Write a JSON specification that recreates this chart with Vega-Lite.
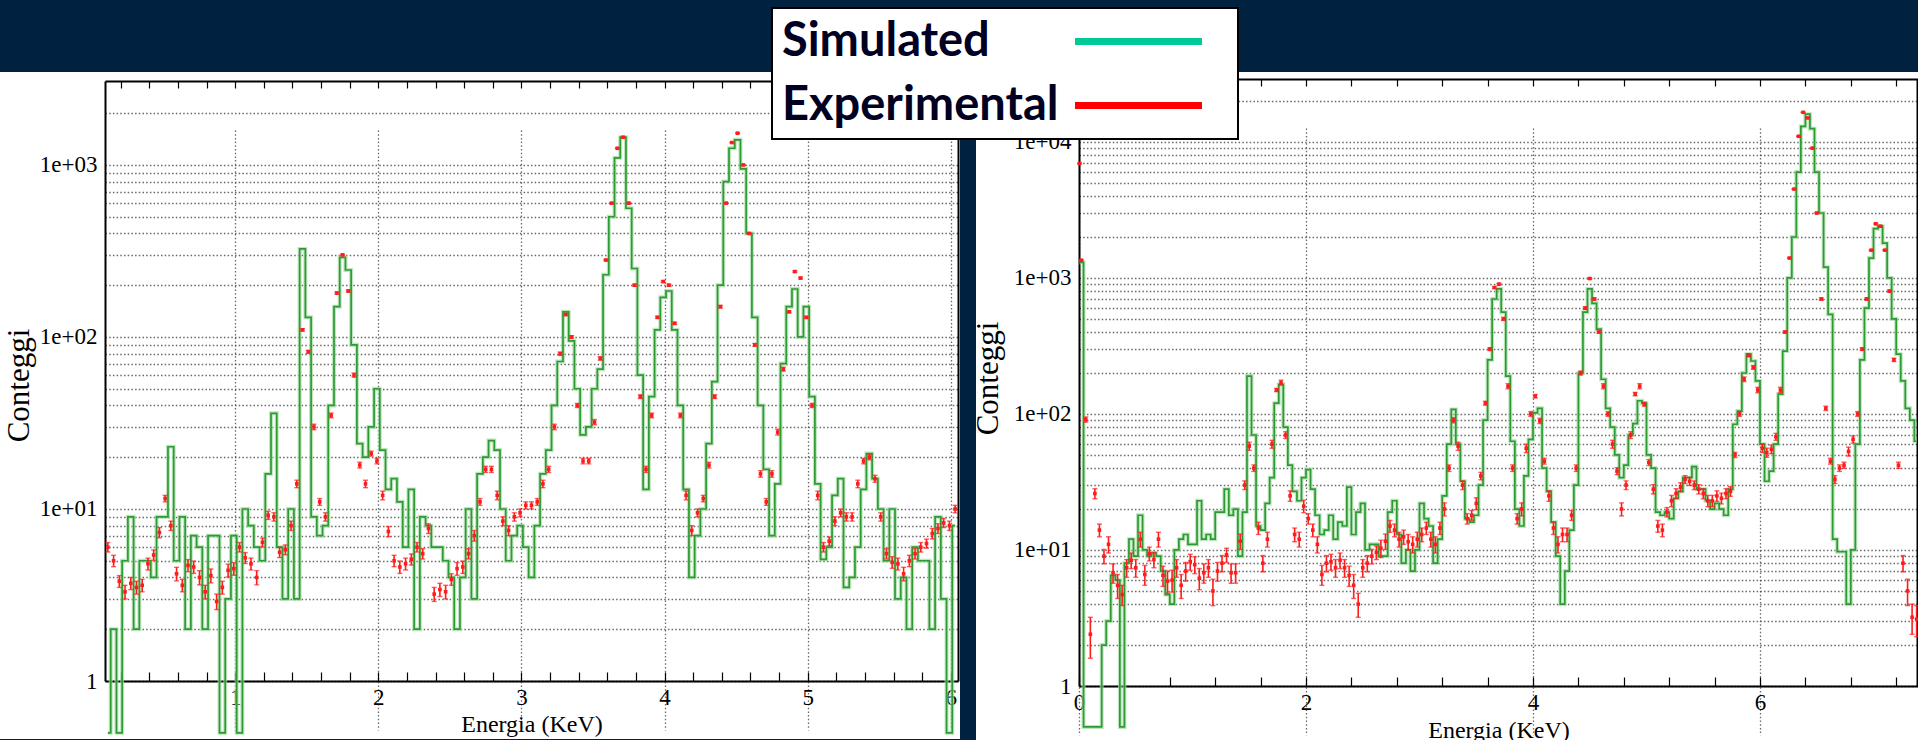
{
  "$schema": "https://vega.github.io/schema/vega-lite/v6.json",
  "background": "#00213f",
  "padding": {"left": 0, "top": 7, "right": 0, "bottom": 0},
  "autosize": {"type": "pad"},
  "bounds": "flush",
  "spacing": 16,
  "config": {
    "view": {"stroke": null},
    "axis": {
      "grid": false,
      "domainColor": "#000000",
      "domainWidth": 2,
      "tickColor": "#000000",
      "tickWidth": 1.2,
      "labelFont": "Liberation Serif",
      "labelFontSize": 23,
      "labelColor": "#000000",
      "labelOverlap": false,
      "labelFlush": false,
      "titleFont": "Liberation Serif",
      "titleColor": "#000000",
      "titleFontWeight": "normal",
      "gridColor": "#444444",
      "gridDash": [1.5, 2.2],
      "gridOpacity": 0.8,
      "gridWidth": 1.3
    }
  },
  "datasets": {
    "left": [
      {"e":0.11,"sim":0.5,"exp":6,"err":0.38},{"e":0.15,"sim":2,"exp":5,"err":0.38},{"e":0.19,"sim":0.5,"exp":3.8,"err":0.3},
      {"e":0.23,"sim":5,"exp":3.3,"err":0.3},{"e":0.27,"sim":9,"exp":3.7,"err":0.3},{"e":0.31,"sim":2,"exp":3.5,"err":0.3},
      {"e":0.35,"sim":5,"exp":3.6,"err":0.3},{"e":0.39,"sim":5,"exp":4.8,"err":0.38},{"e":0.43,"sim":4,"exp":5.4,"err":0.38},
      {"e":0.47,"sim":9,"exp":7.3,"err":0.5},{"e":0.51,"sim":9,"exp":11.5,"err":0.5},{"e":0.55,"sim":23,"exp":8,"err":0.5},
      {"e":0.59,"sim":5,"exp":4.2,"err":0.38},{"e":0.63,"sim":9,"exp":3.6,"err":0.3},{"e":0.67,"sim":2,"exp":4.7,"err":0.38},
      {"e":0.71,"sim":7,"exp":4.6,"err":0.38},{"e":0.75,"sim":6,"exp":4.0,"err":0.38},{"e":0.79,"sim":2,"exp":3.3,"err":0.3},
      {"e":0.83,"sim":7,"exp":4.1,"err":0.38},{"e":0.87,"sim":7,"exp":2.9,"err":0.3},{"e":0.91,"sim":0.5,"exp":3.5,"err":0.3},
      {"e":0.95,"sim":3,"exp":4.4,"err":0.38},{"e":0.99,"sim":7,"exp":4.5,"err":0.38},{"e":1.03,"sim":0.5,"exp":6,"err":0.38},
      {"e":1.07,"sim":10,"exp":5.2,"err":0.38},{"e":1.11,"sim":8,"exp":4.8,"err":0.38},{"e":1.15,"sim":6,"exp":4.0,"err":0.38},
      {"e":1.19,"sim":5,"exp":6.4,"err":0.38},{"e":1.23,"sim":16,"exp":9.2,"err":0.5},{"e":1.27,"sim":36,"exp":9,"err":0.5},
      {"e":1.31,"sim":6,"exp":5.6,"err":0.38},{"e":1.35,"sim":3,"exp":5.8,"err":0.38},{"e":1.39,"sim":10,"exp":8,"err":0.5},
      {"e":1.43,"sim":3,"exp":14,"err":0.7},{"e":1.47,"sim":325,"exp":110,"err":1.7},{"e":1.51,"sim":130,"exp":82,"err":1.7},
      {"e":1.55,"sim":9,"exp":30,"err":1.1},{"e":1.59,"sim":7,"exp":11,"err":0.5},{"e":1.63,"sim":8,"exp":9,"err":0.5},
      {"e":1.67,"sim":40,"exp":35,"err":1.1},{"e":1.71,"sim":150,"exp":180,"err":2.6},{"e":1.75,"sim":290,"exp":300,"err":2.6},
      {"e":1.79,"sim":245,"exp":185,"err":2.6},{"e":1.83,"sim":90,"exp":60,"err":1.7},{"e":1.87,"sim":24,"exp":18,"err":0.7},
      {"e":1.91,"sim":20,"exp":14,"err":0.7},{"e":1.95,"sim":30,"exp":21,"err":0.7},{"e":1.99,"sim":50,"exp":19,"err":0.7},
      {"e":2.03,"sim":22,"exp":12,"err":0.7},{"e":2.07,"sim":13,"exp":7.4,"err":0.5},{"e":2.11,"sim":15,"exp":5,"err":0.38},
      {"e":2.15,"sim":11,"exp":4.6,"err":0.38},{"e":2.19,"sim":6,"exp":4.8,"err":0.38},{"e":2.23,"sim":13,"exp":5.1,"err":0.38},
      {"e":2.27,"sim":2,"exp":6,"err":0.38},{"e":2.31,"sim":9,"exp":5.5,"err":0.38},{"e":2.35,"sim":8,"exp":7.7,"err":0.5},
      {"e":2.39,"sim":6,"exp":3.2,"err":0.3},{"e":2.43,"sim":6,"exp":3.4,"err":0.3},{"e":2.47,"sim":5,"exp":3.3,"err":0.3},
      {"e":2.51,"sim":4,"exp":3.9,"err":0.3},{"e":2.55,"sim":2,"exp":4.5,"err":0.38},{"e":2.59,"sim":4,"exp":4.6,"err":0.38},
      {"e":2.63,"sim":10,"exp":5.5,"err":0.38},{"e":2.67,"sim":3,"exp":7,"err":0.5},{"e":2.71,"sim":16,"exp":11,"err":0.5},
      {"e":2.75,"sim":20,"exp":17,"err":0.7},{"e":2.79,"sim":25,"exp":17,"err":0.7},{"e":2.83,"sim":22,"exp":12,"err":0.7},
      {"e":2.87,"sim":10,"exp":8.5,"err":0.5},{"e":2.91,"sim":5,"exp":7.5,"err":0.5},{"e":2.95,"sim":7,"exp":9,"err":0.5},
      {"e":2.99,"sim":8,"exp":9.5,"err":0.5},{"e":3.03,"sim":6,"exp":10.5,"err":0.5},{"e":3.07,"sim":4,"exp":10.5,"err":0.5},
      {"e":3.11,"sim":8,"exp":11,"err":0.5},{"e":3.15,"sim":16,"exp":14,"err":0.7},{"e":3.19,"sim":22,"exp":17,"err":0.7},
      {"e":3.23,"sim":40,"exp":30,"err":1.1},{"e":3.27,"sim":72,"exp":80,"err":1.7},{"e":3.31,"sim":140,"exp":135,"err":1.7},
      {"e":3.35,"sim":95,"exp":100,"err":1.7},{"e":3.39,"sim":50,"exp":40,"err":1.1},{"e":3.43,"sim":27,"exp":19,"err":0.7},
      {"e":3.47,"sim":30,"exp":19,"err":0.7},{"e":3.51,"sim":50,"exp":32,"err":1.1},{"e":3.55,"sim":65,"exp":75,"err":1.7},
      {"e":3.59,"sim":230,"exp":280,"err":2.6},{"e":3.63,"sim":500,"exp":600,"err":4},{"e":3.67,"sim":1100,"exp":1250,"err":5.5},
      {"e":3.71,"sim":1450,"exp":1450,"err":5.5},{"e":3.75,"sim":560,"exp":600,"err":4},{"e":3.79,"sim":250,"exp":200,"err":2.6},
      {"e":3.83,"sim":60,"exp":45,"err":1.1},{"e":3.87,"sim":13,"exp":17,"err":0.7},{"e":3.91,"sim":45,"exp":35,"err":1.1},
      {"e":3.95,"sim":110,"exp":130,"err":1.7},{"e":3.99,"sim":170,"exp":210,"err":2.6},{"e":4.03,"sim":185,"exp":200,"err":2.6},
      {"e":4.07,"sim":110,"exp":120,"err":1.7},{"e":4.11,"sim":40,"exp":35,"err":1.1},{"e":4.15,"sim":13,"exp":12,"err":0.7},
      {"e":4.19,"sim":4,"exp":7.5,"err":0.5},{"e":4.23,"sim":7,"exp":9.5,"err":0.5},{"e":4.27,"sim":10,"exp":11.5,"err":0.5},
      {"e":4.31,"sim":24,"exp":18,"err":0.7},{"e":4.35,"sim":55,"exp":45,"err":1.1},{"e":4.39,"sim":200,"exp":150,"err":2.6},
      {"e":4.43,"sim":800,"exp":600,"err":4},{"e":4.47,"sim":1250,"exp":1350,"err":5.5},{"e":4.51,"sim":1400,"exp":1530,"err":5.5},
      {"e":4.55,"sim":950,"exp":1000,"err":4},{"e":4.59,"sim":400,"exp":400,"err":2.6},{"e":4.63,"sim":130,"exp":90,"err":1.7},
      {"e":4.67,"sim":40,"exp":16,"err":0.7},{"e":4.71,"sim":17,"exp":11,"err":0.5},{"e":4.75,"sim":7,"exp":16,"err":0.7},
      {"e":4.79,"sim":14,"exp":28,"err":1.1},{"e":4.83,"sim":70,"exp":65,"err":1.7},{"e":4.87,"sim":150,"exp":140,"err":1.7},
      {"e":4.91,"sim":190,"exp":240,"err":2.6},{"e":4.95,"sim":100,"exp":220,"err":2.6},{"e":4.99,"sim":150,"exp":130,"err":1.7},
      {"e":5.03,"sim":45,"exp":40,"err":1.1},{"e":5.07,"sim":14,"exp":12,"err":0.7},{"e":5.11,"sim":5.1,"exp":6,"err":0.38},
      {"e":5.15,"sim":6,"exp":6.5,"err":0.38},{"e":5.19,"sim":12,"exp":8.5,"err":0.5},{"e":5.23,"sim":15,"exp":9.5,"err":0.5},
      {"e":5.27,"sim":3.5,"exp":9,"err":0.5},{"e":5.31,"sim":4,"exp":9,"err":0.5},{"e":5.35,"sim":6,"exp":14,"err":0.7},
      {"e":5.39,"sim":13,"exp":19,"err":0.7},{"e":5.43,"sim":21,"exp":20,"err":0.7},{"e":5.47,"sim":15,"exp":15,"err":0.7},
      {"e":5.51,"sim":10,"exp":9,"err":0.5},{"e":5.55,"sim":5,"exp":5.5,"err":0.38},{"e":5.59,"sim":10,"exp":4.9,"err":0.38},
      {"e":5.63,"sim":3,"exp":4.8,"err":0.38},{"e":5.67,"sim":4,"exp":4.2,"err":0.38},{"e":5.71,"sim":2,"exp":5,"err":0.38},
      {"e":5.75,"sim":6,"exp":5.5,"err":0.38},{"e":5.79,"sim":5,"exp":6,"err":0.38},{"e":5.83,"sim":5,"exp":6.3,"err":0.38},
      {"e":5.87,"sim":2,"exp":7.2,"err":0.5},{"e":5.91,"sim":9,"exp":7.7,"err":0.5},{"e":5.95,"sim":3,"exp":8.3,"err":0.5},
      {"e":5.99,"sim":0.5,"exp":8,"err":0.5},{"e":6.03,"sim":8,"exp":10,"err":0.5}
    ],
    "right": [
      {"e":0.005,"sim":1300,"exp":6940,"err":45},{"e":0.02,"sim":1300,"exp":1350,"err":13},{"e":0.06,"sim":0.5,"exp":91,"err":4},
      {"e":0.10,"sim":0.5,"exp":2.4,"err":0.8},{"e":0.14,"sim":0.5,"exp":26,"err":2.2},{"e":0.18,"sim":0.5,"exp":14,"err":1.5},
      {"e":0.22,"sim":2,"exp":9,"err":1.1},{"e":0.26,"sim":3,"exp":11,"err":1.5},{"e":0.30,"sim":6.5,"exp":6.8,"err":1.1},
      {"e":0.34,"sim":6,"exp":5.5,"err":1.1},{"e":0.38,"sim":0.5,"exp":4.7,"err":0.8},{"e":0.42,"sim":8,"exp":7.4,"err":1.1},
      {"e":0.46,"sim":12,"exp":8.4,"err":1.1},{"e":0.50,"sim":9,"exp":7.4,"err":1.1},{"e":0.54,"sim":18,"exp":12,"err":1.5},
      {"e":0.58,"sim":10,"exp":6.6,"err":1.1},{"e":0.62,"sim":9,"exp":9.4,"err":1.1},{"e":0.66,"sim":9.5,"exp":8.5,"err":1.1},
      {"e":0.70,"sim":9,"exp":12,"err":1.5},{"e":0.74,"sim":7,"exp":6.5,"err":1.1},{"e":0.78,"sim":4.7,"exp":5.9,"err":1.1},
      {"e":0.82,"sim":4,"exp":6,"err":1.1},{"e":0.86,"sim":10,"exp":7.4,"err":1.1},{"e":0.90,"sim":12,"exp":5.5,"err":1.1},
      {"e":0.94,"sim":13,"exp":7,"err":1.1},{"e":0.98,"sim":11,"exp":8.2,"err":1.1},{"e":1.02,"sim":11,"exp":7.8,"err":1.1},
      {"e":1.06,"sim":23,"exp":6.2,"err":1.1},{"e":1.10,"sim":12,"exp":6.8,"err":1.1},{"e":1.14,"sim":13,"exp":7.4,"err":1.1},
      {"e":1.18,"sim":12,"exp":5,"err":1.1},{"e":1.22,"sim":19,"exp":7,"err":1.1},{"e":1.26,"sim":19,"exp":8,"err":1.1},
      {"e":1.30,"sim":28,"exp":9.2,"err":1.1},{"e":1.34,"sim":18,"exp":6.8,"err":1.1},{"e":1.38,"sim":20,"exp":6.8,"err":1.1},
      {"e":1.42,"sim":9,"exp":11.6,"err":1.5},{"e":1.46,"sim":19,"exp":30,"err":2.2},{"e":1.50,"sim":190,"exp":58,"err":4},
      {"e":1.54,"sim":70,"exp":40,"err":2.2},{"e":1.58,"sim":15,"exp":14.5,"err":1.5},{"e":1.62,"sim":14,"exp":8,"err":1.1},
      {"e":1.66,"sim":22,"exp":12,"err":1.5},{"e":1.70,"sim":34,"exp":60,"err":4},{"e":1.74,"sim":120,"exp":150,"err":4},
      {"e":1.78,"sim":165,"exp":170,"err":7},{"e":1.82,"sim":80,"exp":70,"err":4},{"e":1.86,"sim":42,"exp":25,"err":2.2},
      {"e":1.90,"sim":27,"exp":13,"err":1.5},{"e":1.94,"sim":23,"exp":12,"err":1.5},{"e":1.98,"sim":34,"exp":21,"err":2.2},
      {"e":2.02,"sim":39,"exp":17,"err":1.5},{"e":2.06,"sim":28,"exp":14,"err":1.5},{"e":2.10,"sim":18,"exp":11,"err":1.5},
      {"e":2.14,"sim":13,"exp":6.6,"err":1.1},{"e":2.18,"sim":14,"exp":8,"err":1.1},{"e":2.22,"sim":18,"exp":8.2,"err":1.1},
      {"e":2.26,"sim":12,"exp":7.4,"err":1.1},{"e":2.30,"sim":16,"exp":8.4,"err":1.1},{"e":2.34,"sim":15,"exp":7.4,"err":1.1},
      {"e":2.38,"sim":29,"exp":6.5,"err":1.1},{"e":2.42,"sim":13,"exp":5.5,"err":1.1},{"e":2.46,"sim":19,"exp":4,"err":0.8},
      {"e":2.50,"sim":22,"exp":7.4,"err":1.1},{"e":2.54,"sim":10,"exp":8,"err":1.1},{"e":2.58,"sim":11,"exp":9,"err":1.1},
      {"e":2.62,"sim":11,"exp":9.6,"err":1.1},{"e":2.66,"sim":9,"exp":10.3,"err":1.5},{"e":2.70,"sim":9,"exp":11.6,"err":1.5},
      {"e":2.74,"sim":19,"exp":15,"err":1.5},{"e":2.78,"sim":23,"exp":14,"err":1.5},{"e":2.82,"sim":13,"exp":12,"err":1.5},
      {"e":2.86,"sim":8,"exp":12.5,"err":1.5},{"e":2.90,"sim":10,"exp":11.5,"err":1.5},{"e":2.94,"sim":7,"exp":11,"err":1.5},
      {"e":2.98,"sim":10,"exp":12,"err":1.5},{"e":3.02,"sim":22,"exp":13,"err":1.5},{"e":3.06,"sim":17,"exp":14.5,"err":1.5},
      {"e":3.10,"sim":15,"exp":12,"err":1.5},{"e":3.14,"sim":8,"exp":11,"err":1.5},{"e":3.18,"sim":12,"exp":14.5,"err":1.5},
      {"e":3.22,"sim":25,"exp":20,"err":2.2},{"e":3.26,"sim":60,"exp":40,"err":2.2},{"e":3.30,"sim":108,"exp":90,"err":4},
      {"e":3.34,"sim":60,"exp":58,"err":4},{"e":3.38,"sim":32,"exp":30,"err":2.2},{"e":3.42,"sim":17,"exp":17,"err":1.5},
      {"e":3.46,"sim":16,"exp":18,"err":1.5},{"e":3.50,"sim":18,"exp":22,"err":2.2},{"e":3.54,"sim":30,"exp":35,"err":2.2},
      {"e":3.58,"sim":90,"exp":120,"err":4},{"e":3.62,"sim":250,"exp":300,"err":7},{"e":3.66,"sim":700,"exp":850,"err":13},
      {"e":3.70,"sim":830,"exp":900,"err":13},{"e":3.74,"sim":560,"exp":500,"err":13},{"e":3.78,"sim":190,"exp":160,"err":7},
      {"e":3.82,"sim":63,"exp":40,"err":2.2},{"e":3.86,"sim":20,"exp":17,"err":1.5},{"e":3.90,"sim":15,"exp":20,"err":2.2},
      {"e":3.94,"sim":35,"exp":56,"err":4},{"e":3.98,"sim":65,"exp":100,"err":4},{"e":4.02,"sim":102,"exp":135,"err":4},
      {"e":4.06,"sim":110,"exp":89,"err":4},{"e":4.10,"sim":40,"exp":45,"err":2.2},{"e":4.14,"sim":27,"exp":25,"err":2.2},
      {"e":4.18,"sim":16,"exp":14.5,"err":1.5},{"e":4.22,"sim":9,"exp":11,"err":1.5},{"e":4.26,"sim":4,"exp":13,"err":1.5},
      {"e":4.30,"sim":7,"exp":13,"err":1.5},{"e":4.34,"sim":14,"exp":18,"err":1.5},{"e":4.38,"sim":30,"exp":40,"err":2.2},
      {"e":4.42,"sim":200,"exp":200,"err":7},{"e":4.46,"sim":560,"exp":600,"err":13},{"e":4.50,"sim":830,"exp":990,"err":13},
      {"e":4.54,"sim":650,"exp":700,"err":13},{"e":4.58,"sim":420,"exp":400,"err":7},{"e":4.62,"sim":180,"exp":160,"err":7},
      {"e":4.66,"sim":110,"exp":100,"err":4},{"e":4.70,"sim":80,"exp":60,"err":4},{"e":4.74,"sim":50,"exp":38,"err":2.2},
      {"e":4.78,"sim":34,"exp":20,"err":2.2},{"e":4.82,"sim":42,"exp":30,"err":2.2},{"e":4.86,"sim":70,"exp":70,"err":4},
      {"e":4.90,"sim":85,"exp":140,"err":4},{"e":4.94,"sim":125,"exp":160,"err":7},{"e":4.98,"sim":120,"exp":118,"err":4},
      {"e":5.02,"sim":50,"exp":44,"err":2.2},{"e":5.06,"sim":40,"exp":28,"err":2.2},{"e":5.10,"sim":19,"exp":15,"err":1.5},
      {"e":5.14,"sim":18,"exp":14,"err":1.5},{"e":5.18,"sim":19,"exp":19,"err":1.5},{"e":5.22,"sim":17,"exp":23,"err":2.2},
      {"e":5.26,"sim":24,"exp":26,"err":2.2},{"e":5.30,"sim":27,"exp":29,"err":2.2},{"e":5.34,"sim":34,"exp":33,"err":2.2},
      {"e":5.38,"sim":34,"exp":32,"err":2.2},{"e":5.42,"sim":41,"exp":30,"err":2.2},{"e":5.46,"sim":28,"exp":28,"err":2.2},
      {"e":5.50,"sim":28,"exp":26,"err":2.2},{"e":5.54,"sim":23,"exp":23,"err":2.2},{"e":5.58,"sim":20,"exp":23,"err":2.2},
      {"e":5.62,"sim":22,"exp":25,"err":2.2},{"e":5.66,"sim":20,"exp":24,"err":2.2},{"e":5.70,"sim":18,"exp":26,"err":2.2},
      {"e":5.74,"sim":28,"exp":27,"err":2.2},{"e":5.78,"sim":84,"exp":50,"err":2.2},{"e":5.82,"sim":105,"exp":100,"err":4},
      {"e":5.86,"sim":200,"exp":180,"err":7},{"e":5.90,"sim":275,"exp":270,"err":7},{"e":5.94,"sim":245,"exp":220,"err":7},
      {"e":5.98,"sim":175,"exp":150,"err":7},{"e":6.02,"sim":60,"exp":56,"err":4},{"e":6.06,"sim":32,"exp":52,"err":4},
      {"e":6.10,"sim":38,"exp":55,"err":4},{"e":6.14,"sim":60,"exp":68,"err":4},{"e":6.18,"sim":140,"exp":150,"err":7},
      {"e":6.22,"sim":290,"exp":400,"err":7},{"e":6.26,"sim":1000,"exp":1400,"err":13},{"e":6.30,"sim":2000,"exp":4500,"err":25},
      {"e":6.34,"sim":6000,"exp":11000,"err":45},{"e":6.38,"sim":13000,"exp":16500,"err":45},{"e":6.42,"sim":16000,"exp":15000,"err":45},
      {"e":6.46,"sim":12500,"exp":9000,"err":45},{"e":6.50,"sim":6000,"exp":3000,"err":25},{"e":6.54,"sim":3000,"exp":700,"err":13},
      {"e":6.58,"sim":1200,"exp":110,"err":4},{"e":6.62,"sim":540,"exp":45,"err":2.2},{"e":6.66,"sim":12,"exp":33,"err":2.2},
      {"e":6.70,"sim":9.7,"exp":40,"err":2.2},{"e":6.74,"sim":9.7,"exp":42,"err":2.2},{"e":6.78,"sim":4,"exp":53,"err":4},
      {"e":6.82,"sim":10,"exp":65,"err":4},{"e":6.86,"sim":60,"exp":100,"err":4},{"e":6.90,"sim":250,"exp":300,"err":7},
      {"e":6.94,"sim":600,"exp":700,"err":13},{"e":6.98,"sim":1400,"exp":1600,"err":13},{"e":7.02,"sim":2300,"exp":2500,"err":25},
      {"e":7.06,"sim":2400,"exp":2400,"err":25},{"e":7.10,"sim":1800,"exp":1600,"err":13},{"e":7.14,"sim":1000,"exp":800,"err":13},
      {"e":7.18,"sim":500,"exp":250,"err":7},{"e":7.22,"sim":275,"exp":42,"err":2.2},{"e":7.26,"sim":175,"exp":8,"err":1.1},
      {"e":7.30,"sim":110,"exp":5,"err":1.1},{"e":7.34,"sim":90,"exp":3.2,"err":0.8},{"e":7.38,"sim":63,"exp":3.1,"err":0.8}
    ],
    "series": [{"series": "Simulated", "e": -1}, {"series": "Experimental", "e": -1}]
  },
  "resolve": {"scale": {"color": "independent"}, "legend": {"color": "independent"}},
  "hconcat": [
    {
      "width": 960,
      "height": 667,
      "view": {"fill": "#ffffff", "stroke": null},
      "data": {"name": "left"},
      "resolve": {"axis": {"x": "independent", "y": "independent"}},
      "layer": [
        {
          "mark": {"type": "line", "interpolate": "step", "clip": true, "color": "#a3dba3", "strokeWidth": 4, "opacity": 0.7},
          "encoding": {
            "x": {"field": "e", "type": "quantitative",
                  "scale": {"domain": [0.09, 6.05], "range": [105, 958], "nice": false, "zero": false},
                  "axis": {"orient": "bottom", "grid": true, "values": [1, 2, 3, 4, 5, 6], "domain": false, "ticks": false, "labels": false, "title": null}},
            "y": {"field": "sim", "type": "quantitative",
                  "scale": {"type": "log", "domain": [1, 3076], "range": [609, 9], "nice": false},
                  "axis": {"orient": "left", "grid": true, "domain": false, "ticks": false, "labels": false, "title": null,
                           "values": [1,2,3,4,5,6,7,8,9,10,20,30,40,50,60,70,80,90,100,200,300,400,500,600,700,800,900,1000,2000]}}
          }
        },
        {
          "mark": {"type": "line", "interpolate": "step", "clip": true, "color": "#2e9a34", "strokeWidth": 1.7},
          "encoding": {
            "x": {"field": "e", "type": "quantitative",
                  "scale": {"domain": [0.09, 6.05], "range": [105, 958], "nice": false, "zero": false},
                  "axis": {"orient": "bottom", "offset": -58, "tickSize": -9, "labelPadding": 14,
                           "values": [0.2,0.4,0.6,0.8,1,1.2,1.4,1.6,1.8,2,2.2,2.4,2.6,2.8,3,3.2,3.4,3.6,3.8,4,4.2,4.4,4.6,4.8,5,5.2,5.4,5.6,5.8,6],
                           "labelExpr": "datum.value === round(datum.value) ? format(datum.value, 'd') : ''",
                           "title": "Energia (KeV)", "titleFontSize": 24, "titleY": 50, "titleBaseline": "alphabetic"}},
            "y": {"field": "sim", "type": "quantitative",
                  "scale": {"type": "log", "domain": [1, 3076], "range": [609, 9], "nice": false},
                  "axis": {"orient": "left", "offset": -105, "ticks": false, "labelPadding": 8, "values": [1, 10, 100, 1000],
                           "labelExpr": "datum.value === 1 ? '1' : '1e+0' + format(log(datum.value) / LN10, '.0f')",
                           "title": "Conteggi", "titleFontSize": 31, "titleX": -77, "titleY": 313, "titleBaseline": "alphabetic"}}
          }
        },
        {
          "mark": {"type": "errorbar", "ticks": {"size": 5, "thickness": 1.4}, "color": "#ff1c1c", "thickness": 1.6},
          "encoding": {
            "x": {"field": "e", "type": "quantitative",
                  "scale": {"domain": [0.09, 6.05], "range": [105, 958], "nice": false, "zero": false}, "axis": null},
            "y": {"field": "exp", "type": "quantitative",
                  "scale": {"type": "log", "domain": [1, 3076], "range": [609, 9], "nice": false}, "axis": null},
            "yError": {"field": "err"}
          }
        },
        {
          "mark": {"type": "square", "size": 13, "color": "#ff1c1c", "opacity": 1, "clip": true},
          "encoding": {
            "x": {"field": "e", "type": "quantitative",
                  "scale": {"domain": [0.09, 6.05], "range": [105, 958], "nice": false, "zero": false},
                  "axis": {"orient": "top", "offset": -9, "tickSize": -7, "labels": false, "title": null,
                           "values": [0.2,0.4,0.6,0.8,1,1.2,1.4,1.6,1.8,2,2.2,2.4,2.6,2.8,3,3.2,3.4,3.6,3.8,4,4.2,4.4,4.6,4.8,5,5.2,5.4,5.6,5.8,6]}},
            "y": {"field": "exp", "type": "quantitative",
                  "scale": {"type": "log", "domain": [1, 3076], "range": [609, 9], "nice": false},
                  "axis": {"orient": "right", "offset": -2, "ticks": false, "labels": false, "title": null}}
          }
        }
      ]
    },
    {
      "width": 942,
      "height": 670,
      "view": {"fill": "#ffffff", "stroke": null},
      "data": {"name": "right"},
      "resolve": {"axis": {"x": "independent", "y": "independent"}},
      "layer": [
        {
          "mark": {"type": "line", "interpolate": "step", "clip": true, "color": "#a3dba3", "strokeWidth": 4, "opacity": 0.7},
          "encoding": {
            "x": {"field": "e", "type": "quantitative",
                  "scale": {"domain": [0, 7.392], "range": [103, 942], "nice": false, "zero": false},
                  "axis": {"orient": "bottom", "grid": true, "values": [0, 2, 4, 6], "domain": false, "ticks": false, "labels": false, "title": null}},
            "y": {"field": "sim", "type": "quantitative",
                  "scale": {"type": "log", "domain": [1, 29000], "range": [614, 7], "nice": false},
                  "axis": {"orient": "left", "grid": true, "domain": false, "ticks": false, "labels": false, "title": null,
                           "values": [1,2,3,4,5,6,7,8,9,10,20,30,40,50,60,70,80,90,100,200,300,400,500,600,700,800,900,1000,2000,3000,4000,5000,6000,7000,8000,9000,10000,20000]}}
          }
        },
        {
          "mark": {"type": "line", "interpolate": "step", "clip": true, "color": "#2e9a34", "strokeWidth": 1.7},
          "encoding": {
            "x": {"field": "e", "type": "quantitative",
                  "scale": {"domain": [0, 7.392], "range": [103, 942], "nice": false, "zero": false},
                  "axis": {"orient": "bottom", "offset": -56, "tickSize": -9, "labelPadding": 14,
                           "values": [0,0.4,0.8,1.2,1.6,2,2.4,2.8,3.2,3.6,4,4.4,4.8,5.2,5.6,6,6.4,6.8,7.2],
                           "labelExpr": "datum.value % 2 === 0 ? format(datum.value, 'd') : ''",
                           "title": "Energia (KeV)", "titleFontSize": 24, "titleY": 51, "titleBaseline": "alphabetic"}},
            "y": {"field": "sim", "type": "quantitative",
                  "scale": {"type": "log", "domain": [1, 29000], "range": [614, 7], "nice": false},
                  "axis": {"orient": "left", "offset": -103, "ticks": false, "labelPadding": 8, "values": [1, 10, 100, 1000, 10000],
                           "labelExpr": "datum.value === 1 ? '1' : '1e+0' + format(log(datum.value) / LN10, '.0f')",
                           "title": "Conteggi", "titleFontSize": 31, "titleX": -82, "titleY": 306, "titleBaseline": "alphabetic"}}
          }
        },
        {
          "mark": {"type": "errorbar", "ticks": {"size": 5, "thickness": 1.4}, "color": "#ff1c1c", "thickness": 1.6},
          "encoding": {
            "x": {"field": "e", "type": "quantitative",
                  "scale": {"domain": [0, 7.392], "range": [103, 942], "nice": false, "zero": false}, "axis": null},
            "y": {"field": "exp", "type": "quantitative",
                  "scale": {"type": "log", "domain": [1, 29000], "range": [614, 7], "nice": false}, "axis": null},
            "yError": {"field": "err"}
          }
        },
        {
          "mark": {"type": "square", "size": 13, "color": "#ff1c1c", "opacity": 1, "clip": true},
          "encoding": {
            "x": {"field": "e", "type": "quantitative",
                  "scale": {"domain": [0, 7.392], "range": [103, 942], "nice": false, "zero": false},
                  "axis": {"orient": "top", "offset": -7, "tickSize": -7, "labels": false, "title": null,
                           "values": [0,0.4,0.8,1.2,1.6,2,2.4,2.8,3.2,3.6,4,4.4,4.8,5.2,5.6,6,6.4,6.8,7.2]}},
            "y": {"field": "exp", "type": "quantitative",
                  "scale": {"type": "log", "domain": [1, 29000], "range": [614, 7], "nice": false},
                  "axis": {"orient": "right", "offset": -1, "ticks": false, "labels": false, "title": null}}
          }
        },
        {
          "data": {"name": "series"},
          "mark": {"type": "rule", "clip": true, "strokeWidth": 7},
          "encoding": {
            "x": {"field": "e", "type": "quantitative",
                  "scale": {"domain": [0, 7.392], "range": [103, 942], "nice": false, "zero": false}, "axis": null},
            "color": {"field": "series", "type": "nominal",
                      "scale": {"domain": ["Simulated", "Experimental"], "range": ["#00c896", "#ff0000"]},
                      "legend": {"orient": "none", "legendX": -204, "legendY": -64, "direction": "vertical",
                                 "title": " ", "titleOrient": "right", "titlePadding": 12, "titleFontSize": 10,
                                 "symbolType": "M21.22,0H31.22", "symbolSize": 645.16, "symbolStrokeWidth": 7,
                                 "labelFont": "Lato", "labelFontSize": 47, "labelFontWeight": "bold",
                                 "labelColor": "#000022", "labelLimit": 500, "labelOffset": -47, "labelAlign": "left",
                                 "rowPadding": 16, "padding": 10,
                                 "fillColor": "#ffffff", "strokeColor": "#000000", "cornerRadius": 0,
                                 "encode": {"legend": {"update": {"strokeWidth": {"value": 2}}}}}}
          }
        }
      ]
    }
  ]
}
